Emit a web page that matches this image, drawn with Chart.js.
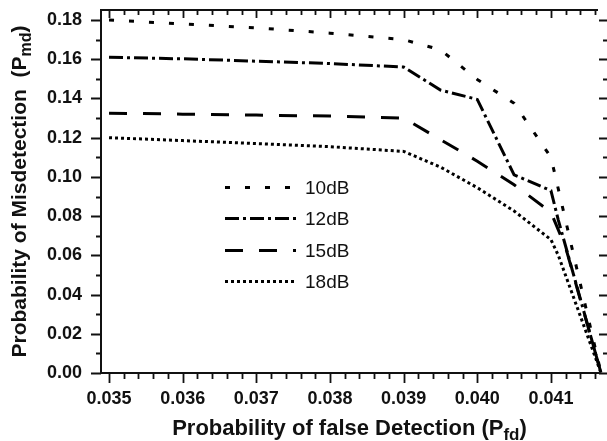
<!DOCTYPE html>
<html>
<head>
<meta charset="utf-8">
<script src="https://cdn.jsdelivr.net/npm/chart.js@4.4.0/dist/chart.umd.min.js"></script>
<style>
  html, body { margin: 0; padding: 0; background: #ffffff; }
  canvas { display: block; }
</style>
</head>
<body>
<canvas id="chart" width="607" height="441"></canvas>
<script>
// Series names (SNR)
const seriesLabels = ['10dB', '12dB', '15dB', '18dB'];

// Probability of false detection (x) and misdetection (y) for each SNR
const pfd10 = [0.035, 0.036, 0.037, 0.038, 0.039, 0.0395, 0.040, 0.0405, 0.041, 0.04168];
const pmd10 = [0.180, 0.178, 0.176, 0.1733, 0.170, 0.1648, 0.1497, 0.1375, 0.110, 0];

const pfd12 = [0.035, 0.036, 0.037, 0.038, 0.039, 0.0395, 0.040, 0.0405, 0.041, 0.0411, 0.04168];
const pmd12 = [0.161, 0.1602, 0.159, 0.1578, 0.156, 0.1443, 0.1395, 0.101, 0.093, 0.078, 0];

const pfd15 = [0.035, 0.036, 0.037, 0.038, 0.039, 0.0395, 0.040, 0.0405, 0.041, 0.0412, 0.04168];
const pmd15 = [0.1325, 0.132, 0.1315, 0.131, 0.130, 0.119, 0.108, 0.096, 0.082, 0.064, 0];

const pfd18 = [0.035, 0.036, 0.037, 0.038, 0.039, 0.0395, 0.040, 0.0405, 0.041, 0.0411, 0.04168];
const pmd18 = [0.120, 0.1185, 0.117, 0.1154, 0.113, 0.105, 0.0945, 0.0826, 0.068, 0.060, 0];

// Labelled ticks
const xTicks = [0.035, 0.036, 0.037, 0.038, 0.039, 0.040, 0.041];
const yTicks = [0.00, 0.02, 0.04, 0.06, 0.08, 0.10, 0.12, 0.14, 0.16, 0.18];
const xMinorStep = 0.0002;
const yMinorStep = 0.01;

const FONT = "'Liberation Sans', Arial, Helvetica, sans-serif";
const INK = '#111111';

const toPoints = (xs, ys) => xs.map((x, i) => ({ x: x, y: ys[i] }));

const lineStyles = [
  [5, 15],          // short dashes
  [14, 4, 3, 4],    // dash-dot
  [18, 16],         // long dashes
  [3, 3]            // dots
];

const seriesData = [
  toPoints(pfd10, pmd10),
  toPoints(pfd12, pmd12),
  toPoints(pfd15, pmd15),
  toPoints(pfd18, pmd18)
];

const datasets = seriesData.map((pts, i) => ({
  label: seriesLabels[i],
  data: pts,
  borderColor: '#000000',
  backgroundColor: '#000000',
  borderWidth: 3,
  borderDash: lineStyles[i],
  borderCapStyle: 'butt',
  pointRadius: 0,
  tension: 0,
  fill: false,
  clip: false
}));

// Tick marks on all four sides (major + minor), top frame line
const frameTicks = {
  id: 'frameTicks',
  afterDraw(chart) {
    const { ctx, chartArea: a, scales: { x, y } } = chart;
    ctx.save();
    ctx.strokeStyle = INK;
    ctx.lineCap = 'butt';

    // top frame
    ctx.lineWidth = 2;
    ctx.beginPath();
    ctx.moveTo(a.left - 1, a.top);
    ctx.lineTo(a.right, a.top);
    ctx.stroke();

    ctx.lineWidth = 1.8;
    const rightEdge = a.right + 10;
    // x ticks
    const xStart = Math.ceil((x.min - 1e-12) / xMinorStep);
    const xEnd = Math.floor((x.max + 1e-12) / xMinorStep);
    for (let k = xStart; k <= xEnd; k++) {
      const v = k * xMinorStep;
      const isMajor = xTicks.some(t => Math.abs(t - v) < 1e-9);
      const px = Math.round(x.getPixelForValue(v)) + 0.5;
      ctx.beginPath();
      ctx.moveTo(px, a.bottom);
      ctx.lineTo(px, a.bottom + (isMajor ? 10 : 6));
      ctx.moveTo(px, a.top);
      ctx.lineTo(px, a.top + (isMajor ? 8 : 5));
      ctx.stroke();
    }
    // y ticks
    const yEnd = Math.floor((y.max + 1e-12) / yMinorStep);
    for (let k = 0; k <= yEnd; k++) {
      const v = k * yMinorStep;
      const isMajor = yTicks.some(t => Math.abs(t - v) < 1e-9);
      const py = Math.round(y.getPixelForValue(v)) + 0.5;
      ctx.beginPath();
      ctx.moveTo(a.left, py);
      ctx.lineTo(a.left - (isMajor ? 10 : 5), py);
      ctx.moveTo(rightEdge, py);
      ctx.lineTo(rightEdge - (isMajor ? 9 : 5), py);
      ctx.stroke();
    }
    ctx.restore();
  }
};

// Draws a run of text pieces (main text + subscript) centred on cx
function drawRuns(ctx, runs, cx, baseline) {
  let total = 0;
  runs.forEach(r => { ctx.font = r.font; total += ctx.measureText(r.text).width; });
  let x = cx - total / 2;
  runs.forEach(r => {
    ctx.font = r.font;
    ctx.fillText(r.text, x, baseline + (r.dy || 0));
    x += ctx.measureText(r.text).width;
  });
}

// Axis titles with subscripts
const axisTitles = {
  id: 'axisTitles',
  afterDraw(chart) {
    const { ctx, chartArea: a } = chart;
    ctx.save();
    ctx.fillStyle = INK;
    ctx.textAlign = 'left';
    ctx.textBaseline = 'alphabetic';
    drawRuns(ctx, [
      { text: 'Probability of false Detection (P', font: 'bold 22px ' + FONT },
      { text: 'fd', font: 'bold 17px ' + FONT, dy: 5 },
      { text: ')', font: 'bold 22px ' + FONT }
    ], (a.left + a.right) / 2, 435);

    ctx.translate(26, (a.top + a.bottom) / 2);
    ctx.rotate(-Math.PI / 2);
    drawRuns(ctx, [
      { text: 'Probability of Misdetection  (P', font: 'bold 21px ' + FONT },
      { text: 'md', font: 'bold 16px ' + FONT, dy: 5 },
      { text: ')', font: 'bold 21px ' + FONT }
    ], 0, 0);
    ctx.restore();
  }
};

// Legend inside the plot: line sample + label
const insideLegend = {
  id: 'insideLegend',
  afterDraw(chart) {
    const { ctx, chartArea: a } = chart;
    const x0 = a.left + 124, x1 = a.left + 195, tx = a.left + 204;
    const y0 = a.top + 177, gap = 31.3;
    ctx.save();
    chart.data.datasets.forEach((ds, i) => {
      const yy = Math.round(y0 + i * gap) + 0.5;
      ctx.strokeStyle = '#000000';
      ctx.lineWidth = 3;
      ctx.lineCap = 'butt';
      ctx.setLineDash(ds.borderDash);
      ctx.beginPath();
      ctx.moveTo(x0, yy);
      ctx.lineTo(x1, yy);
      ctx.stroke();
      ctx.setLineDash([]);
      ctx.fillStyle = INK;
      ctx.font = '19px ' + FONT;
      ctx.textAlign = 'left';
      ctx.textBaseline = 'middle';
      ctx.fillText(ds.label, tx, yy + 1);
    });
    ctx.restore();
  }
};

const noScalePadding = (scale) => {
  scale.paddingTop = 0; scale.paddingBottom = 0;
  scale.paddingLeft = 0; scale.paddingRight = 0;
};

new Chart(document.getElementById('chart'), {
  type: 'line',
  data: { datasets: datasets },
  options: {
    responsive: false,
    devicePixelRatio: 1,
    animation: false,
    events: [],
    layout: { padding: { top: 10, right: 9, left: 0, bottom: 0 } },
    plugins: {
      legend: { display: false },
      tooltip: { enabled: false },
      title: { display: false }
    },
    scales: {
      x: {
        type: 'linear',
        position: 'bottom',
        min: 0.034891,
        max: 0.041639,
        afterBuildTicks: (scale) => { scale.ticks = xTicks.map(v => ({ value: v })); },
        afterFit: (scale) => { scale.height = 68; noScalePadding(scale); },
        grid: { display: false, drawTicks: true, tickLength: 10 },
        border: { display: true, color: INK, width: 2 },
        ticks: {
          autoSkip: false,
          maxRotation: 0,
          padding: 5,
          color: INK,
          font: { family: FONT, size: 18, weight: 'bold' },
          callback: (v) => Number(v).toFixed(3)
        }
      },
      y: {
        type: 'linear',
        position: 'left',
        min: 0,
        max: 0.1851,
        afterBuildTicks: (scale) => { scale.ticks = yTicks.map(v => ({ value: v })); },
        afterFit: (scale) => { scale.width = 101; noScalePadding(scale); },
        grid: { display: false, drawTicks: true, tickLength: 10 },
        border: { display: true, color: INK, width: 2 },
        ticks: {
          autoSkip: false,
          padding: 9,
          color: INK,
          font: { family: FONT, size: 18, weight: 'bold' },
          callback: (v) => Number(v).toFixed(2)
        }
      }
    }
  },
  plugins: [frameTicks, axisTitles, insideLegend]
});
</script>
</body>
</html>
